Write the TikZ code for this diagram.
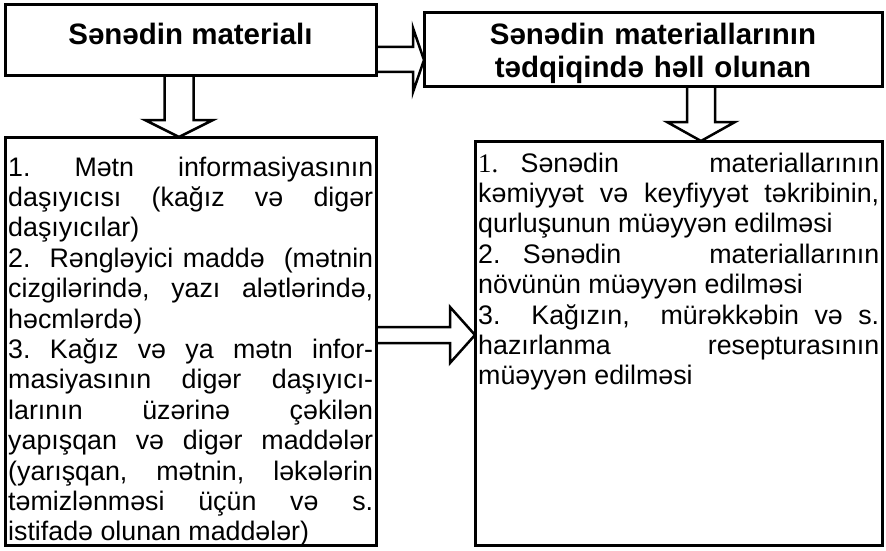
\documentclass[tikz,border=0pt]{standalone}
\usepackage{fontspec}
\setmainfont{Liberation Sans}
\newfontfamily\numfont{Liberation Serif}
\usetikzlibrary{positioning,calc}
\newcommand{\bodysetup}{\frenchspacing\tolerance=10000\relax\hyphenpenalty=10000\relax}

\begin{document}
\begin{tikzpicture}[
    x=1pt, y=-1pt,
    box/.style={rectangle, draw=black, line width=3pt, inner sep=0pt, outer sep=0pt, anchor=north west},
    headtext/.style={font=\fontsize{29.5}{33}\selectfont\bfseries, align=center, inner sep=0pt},
    bodytext/.style={font=\fontsize{26.8}{30.4}\selectfont\bodysetup, align=justify, inner sep=0pt},
    fatarrow/.style={draw=black, line width=2.5pt, line join=miter}
]
    \useasboundingbox (0,0) rectangle (886,551);

    % Boxes
    \node[box, minimum width=371pt, minimum height=71pt] (material) at (5,5) {};
    \node[box, minimum width=458pt, minimum height=73pt] (research) at (424,13) {};
    \node[box, minimum width=371pt, minimum height=408pt] (carriers) at (5,137) {};
    \node[box, minimum width=407pt, minimum height=404pt] (tasks) at (475,141) {};

    % Headings
    \node[headtext, below=40pt of material.north, anchor=base] (materialtxt) {Sənədin materialı};
    \node[headtext, text width=440pt, below=32pt of research.north, anchor=base] (researchtxt) {Sənədin materiallarının\\ tədqiqində həll olunan};

    % Box texts
    \node[bodytext, text width=365pt, below right=39pt and 3pt of carriers.north west, anchor=base west] (carriertxt) {1. Mətn informasiyasının\linebreak
        daşıyıcısı (kağız və digər\linebreak
        daşıyıcılar)\\
        2.\ \ Rəngləyici maddə\ \ (mətnin\linebreak
        cizgilərində, yazı alətlərində,\linebreak
        həcmlərdə)\\
        3. Kağız və ya mətn infor-\linebreak
        masiyasının digər daşıyıcı-\linebreak
        larının üzərinə çəkilən\linebreak
        yapışqan və digər maddələr\linebreak
        (yarışqan, mətnin, ləkələrin\linebreak
        təmizlənməsi üçün və s.\linebreak
        istifadə olunan maddələr)};
    \node[bodytext, text width=401pt, below right=31pt and 3pt of tasks.north west, anchor=base west] (tasktxt) {{\numfont 1.}\ \ \ Sənədin\hfill materiallarının\linebreak
        kəmiyyət və keyfiyyət təkribinin,\linebreak
        qurluşunun müəyyən edilməsi\\
        2.\ \ \ Sənədin\hfill materiallarının\linebreak
        növünün müəyyən edilməsi\\
        3.\ \ Kağızın,\ \ mürəkkəbin və s.\linebreak
        hazırlanma resepturasının\linebreak
        müəyyən edilməsi};

    % Block arrows
    \draw[fatarrow] (material.east) ++(0,6.5) -- ++(37,0) -- ++(0,-19) -- ++(11,32) -- ++(-11,32) -- ++(0,-20) -- ++(-37,0);
    \draw[fatarrow] (material.south) ++(-26,0) -- ++(0,44) -- ++(-19.5,0) -- ++(34,17) -- ++(34,-17) -- ++(-19.5,0) -- ++(0,-44);
    \draw[fatarrow] (research.south) ++(34,0) -- ++(0,36) -- ++(-20,0) -- ++(34,19) -- ++(34,-19) -- ++(-20,0) -- ++(0,-36);
    \draw[fatarrow] (carriers.east) ++(0,-14) -- ++(74,0) -- ++(0,-20) -- ++(25,28) -- ++(-25,28) -- ++(0,-20) -- ++(-74,0);

\end{tikzpicture}
\end{document}
